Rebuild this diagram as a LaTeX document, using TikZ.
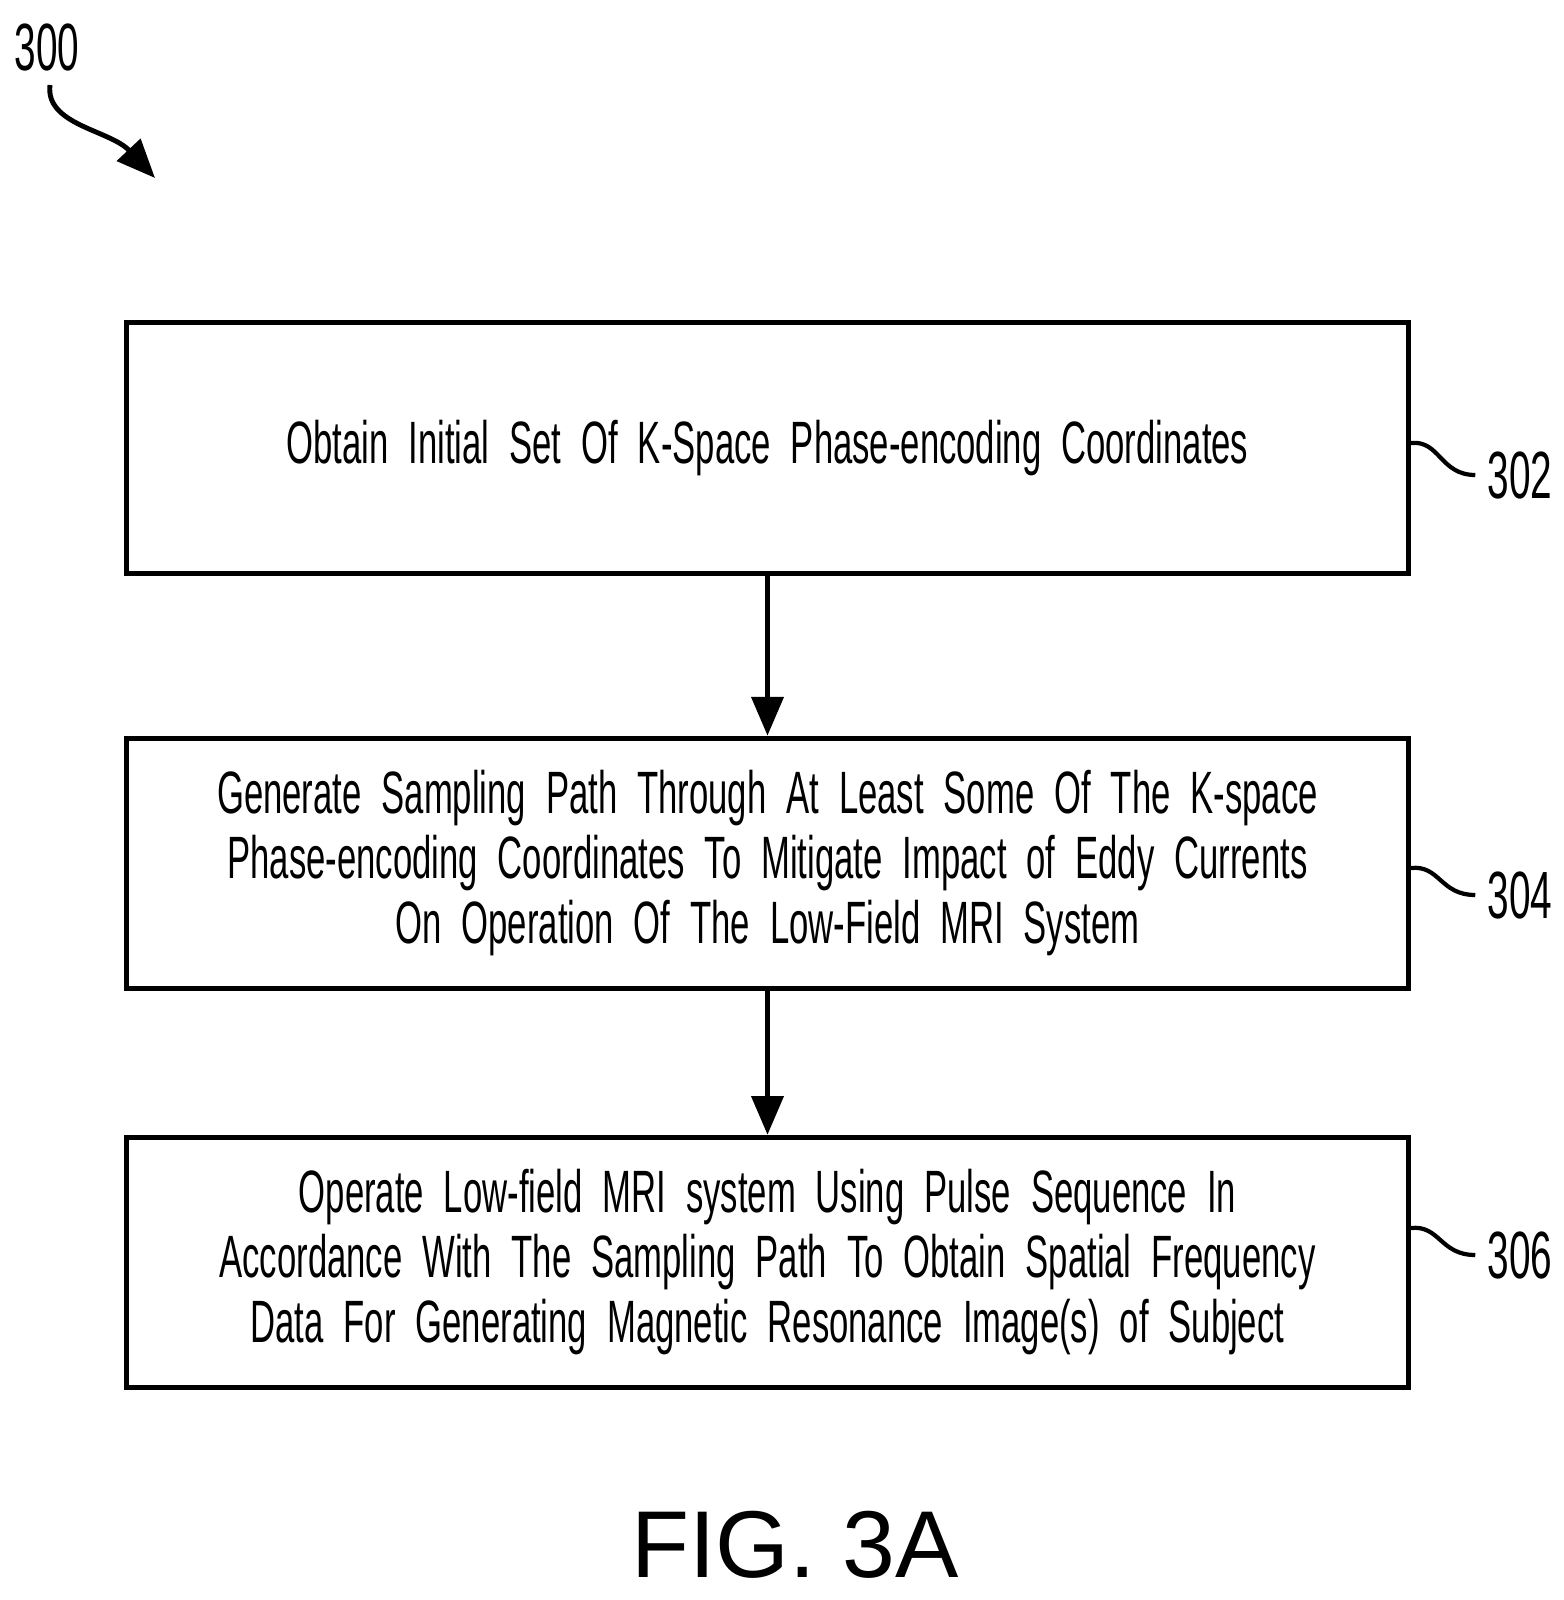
\documentclass[tikz,border=0pt]{standalone}
\usepackage{fontspec}
\setmainfont{Liberation Sans}
\newfontfamily\narrowfont[FakeStretch=0.58]{Liberation Sans}
\usetikzlibrary{arrows.meta,positioning}
\tikzset{%
	process/.style = {draw, line width=1.4pt, rectangle, minimum width=12.81cm, minimum height=2.5cm, text width=12cm, align=center, font=\narrowfont\fontsize{17}{18.5}\selectfont},
	tag/.style     = {font=\narrowfont\fontsize{19}{22}\selectfont},
	arrow/.style   = {line width=1.4pt, -{Triangle[length=11pt,width=9pt]}},
}
\begin{document}
\begin{tikzpicture}[x=0.01cm,y=-0.01cm]
	\useasboundingbox (0,0) rectangle (1563,1600);
	\node [process] (obtain) at (767.5,448) {Obtain Initial Set Of K-Space Phase-encoding Coordinates};
	\node [process] (generate) [below=1.6cm of obtain] {Generate Sampling Path Through At Least Some Of The K-space\\Phase-encoding Coordinates To Mitigate Impact of Eddy Currents\\On Operation Of The Low-Field MRI System};
	\node [process] (operate) [below=1.44cm of generate] {Operate Low-field MRI system Using Pulse Sequence In\\Accordance With The Sampling Path To Obtain Spatial Frequency\\Data For Generating Magnetic Resonance Image(s) of Subject};
	\node [tag] (t302) at (1520,475) {302};
	\node [tag] (t304) at (1520,895) {304};
	\node [tag] (t306) at (1520,1255) {306};
	\node [tag] (t300) at (47,48) {300};
	\node [font=\fontsize{27}{30}\selectfont] (fig) at (795,1545) {FIG. 3A};
	\coordinate (c300) at (155,178);

	\draw[arrow] (obtain) -- (generate);
	\draw[arrow] (generate) -- (operate);
	\draw[line width=1.2pt] (obtain.east |- 0,443) .. controls (1440,440) and (1440,475) .. (t302.west);
	\draw[line width=1.2pt] (generate.east |- 0,868) .. controls (1440,865) and (1440,895) .. (t304.west);
	\draw[line width=1.2pt] (operate.east |- 0,1228) .. controls (1440,1225) and (1440,1255) .. (t306.west);
	\draw[arrow] (50,85) .. controls (45,125) and (110,130) .. (c300);
\end{tikzpicture}
\end{document}
